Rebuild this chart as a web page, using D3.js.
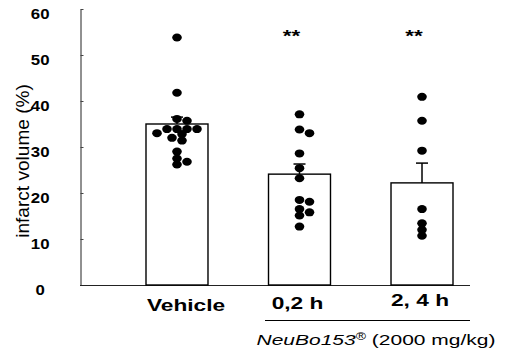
<!DOCTYPE html>
<html>
<head>
<meta charset="utf-8">
<script src="https://cdn.jsdelivr.net/npm/d3@7"></script>
<style>
  body { margin: 0; background: #fff; }
  text { font-family: "Liberation Sans", Arial, sans-serif; fill: #000; }
</style>
</head>
<body>
<div id="chart"></div>
<script>
// groups on the x axis
var groups = ["Vehicle", "0,2 h", "2, 4 h"];
// bar heights (mean) and upper error bar ends
var means = [35.0, 24.1, 22.2];
var errTops = [36.5, 26.3, 26.5];
// individual animals
var vehicleDots = [53.8, 41.8, 36.1, 35.7, 33.9, 33.9, 33.9, 33.9, 33.0, 32.8, 32.0, 31.4, 29.0, 27.5, 26.8, 26.2];
var early = [37.1, 33.8, 33.0, 28.6, 25.4, 23.2, 18.5, 18.1, 16.5, 15.8, 15.1, 12.7];
var late = [40.9, 35.7, 29.2, 16.5, 13.4, 12.0, 10.7];
var dots = [vehicleDots, early, late];
// significance marks
var stars = ["", "**", "**"];
var yTicks = [0, 10, 20, 30, 40, 50, 60];

var svgWidth = 505, svgHeight = 351;

var svg = d3.select("#chart")
    .append("svg")
    .attr("width", svgWidth)
    .attr("height", svgHeight);

// scales
var y = d3.scaleLinear().domain([0, 60]).range([285, 9]);
var x = d3.scaleBand().domain(groups).range([146, 453])
    .paddingInner(0.494).paddingOuter(0);

// stretched text helper (the source figure is widened horizontally)
function label(txt, cx, cy, size, weight, sx, anchor) {
    return svg.append("text")
        .attr("transform", `translate(${cx},${cy}) scale(${sx},1)`)
        .attr("text-anchor", anchor || "middle")
        .attr("font-size", size)
        .attr("font-weight", weight)
        .text(txt);
}

// y axis
var yAxis = d3.axisLeft(y).tickValues(yTicks).tickSizeInner(-3).tickSizeOuter(0);
var yg = svg.append("g")
    .attr("transform", "translate(80.5,0)")
    .call(yAxis);
yg.select(".domain").attr("stroke", "#222");
yg.selectAll(".tick line").attr("stroke", "#444");
yg.selectAll(".tick text")
    .attr("x", -36)
    .attr("dy", "0.62em")
    .attr("text-anchor", "middle")
    .attr("font-size", 15)
    .attr("font-weight", "bold")
    .attr("font-family", "Liberation Sans, Arial, sans-serif")
    .attr("transform", "scale(1.12,1)");

// x baseline
svg.append("line")
    .attr("x1", 80).attr("x2", 470)
    .attr("y1", y(0) + 0.5).attr("y2", y(0) + 0.5)
    .attr("stroke", "#222");

// bars
svg.selectAll(".bar")
    .data(groups)
    .enter()
    .append("rect")
    .attr("class", "bar")
    .attr("x", d => x(d))
    .attr("y", (d, i) => y(means[i]))
    .attr("width", x.bandwidth())
    .attr("height", (d, i) => y(0) - y(means[i]))
    .attr("fill", "#fff")
    .attr("stroke", "#000")
    .attr("stroke-width", 1.4);

// error bars (upper only)
groups.forEach(function(g, i) {
    var cx = x(g) + x.bandwidth() / 2;
    svg.append("line")
        .attr("x1", cx).attr("x2", cx)
        .attr("y1", y(means[i])).attr("y2", y(errTops[i]))
        .attr("stroke", "#000").attr("stroke-width", 1.5);
    svg.append("line")
        .attr("x1", cx - 6).attr("x2", cx + 6)
        .attr("y1", y(errTops[i])).attr("y2", y(errTops[i]))
        .attr("stroke", "#000").attr("stroke-width", 1.5);
});

// simple beeswarm so dots near the same value spread sideways
function swarm(values, cx) {
    var placed = [];
    values.forEach(function(v) {
        var cy = y(v);
        var offsets = [0];
        for (var k = 1; k < 20; k++) { offsets.push(k * 5, -k * 5); }
        for (var j = 0; j < offsets.length; j++) {
            var px = cx + offsets[j];
            var ok = placed.every(p => Math.pow((p.x - px) / 9, 2) + Math.pow((p.y - cy) / 5.5, 2) >= 1);
            if (ok) { placed.push({x: px, y: cy}); break; }
        }
    });
    return placed;
}

groups.forEach(function(g, i) {
    var cx = x(g) + x.bandwidth() / 2;
    var pts = swarm(dots[i], cx);
    svg.selectAll(".dot" + i)
        .data(pts)
        .enter()
        .append("ellipse")
        .attr("cx", d => d.x)
        .attr("cy", d => d.y)
        .attr("rx", 4.8)
        .attr("ry", 4.0)
        .attr("fill", "#000");
});

// stars
groups.forEach(function(g, i) {
    if (stars[i]) label(stars[i], x(g) + x.bandwidth() / 2 - 8, 42, 16, "bold", 1.4);
});

// category labels
var catY = [311, 309, 306];
groups.forEach(function(g, i) {
    label(g, x(g) + x.bandwidth() / 2 + (i === 0 ? 9 : -2), catY[i], 16, "bold", 1.42);
});

// treatment bracket
svg.append("line")
    .attr("x1", 265).attr("x2", 470)
    .attr("y1", 320.5).attr("y2", 320.5)
    .attr("stroke", "#000").attr("stroke-width", 1.2);

var note = svg.append("text")
    .attr("transform", "translate(376,345) scale(1.4,1)")
    .attr("text-anchor", "middle")
    .attr("font-size", 15);
note.append("tspan").attr("font-style", "italic").text("NeuBo153");
note.append("tspan").attr("font-size", 10).attr("dy", -5).text("®");
note.append("tspan").attr("dy", 5).text(" (2000 mg/kg)");

// y title
svg.append("text")
    .attr("transform", "translate(29,161) rotate(-90) scale(1.06,1)")
    .attr("text-anchor", "middle")
    .attr("font-size", 18)
    .text("infarct volume (%)");
</script>
</body>
</html>
